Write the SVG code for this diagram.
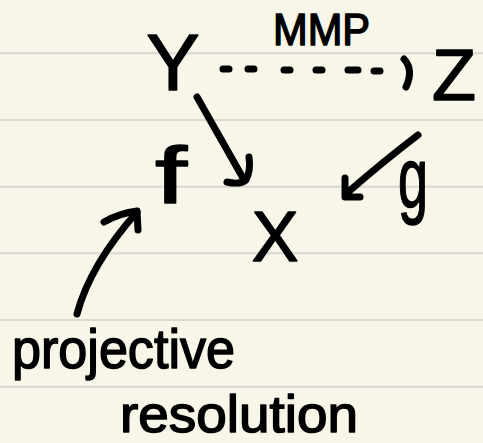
<svg xmlns="http://www.w3.org/2000/svg" width="483" height="443" viewBox="0 0 483 443">
<style>
.rule{stroke:#d8d8d4;stroke-width:2}
.hw{font-family:"Liberation Sans","DejaVu Sans",sans-serif;fill:#000;stroke:#000;stroke-width:1.5;stroke-linejoin:round}
.ink{fill:none;stroke:#000;stroke-width:7;stroke-linecap:round;stroke-linejoin:round}
</style>
<rect width="483" height="443" fill="#f8f6e8"/>
<g id="paper">
<line class="rule" x1="0" y1="53.3" x2="483" y2="53.3"/>
<line class="rule" x1="0" y1="120" x2="483" y2="120"/>
<line class="rule" x1="0" y1="186.7" x2="483" y2="186.7"/>
<line class="rule" x1="0" y1="253.3" x2="483" y2="253.3"/>
<line class="rule" x1="0" y1="320" x2="483" y2="320"/>
<line class="rule" x1="0" y1="386.7" x2="483" y2="386.7"/>
</g>
<g id="node-Y"><text class="hw" x="173" y="90" font-size="80" text-anchor="middle">Y</text></g>
<g id="node-Z"><text class="hw" x="454" y="100" font-size="72" text-anchor="middle">Z</text></g>
<g id="node-X"><text class="hw" x="275" y="261" font-size="70" text-anchor="middle">X</text></g>
<g id="connectors">
<path class="ink" d="M223 69h6 M248 69h6 M284 70h6 M316 70h6 M348 70h10 M374 71h6"/>
<path class="ink" d="M404 59 Q414 70 406 87"/>
<path class="ink" d="M197 97 L243 178"/>
<path class="ink" d="M227 182 Q240 185 246 180 Q251 170 249 157"/>
<path class="ink" d="M418 135 Q385 160 347 193"/>
<path class="ink" d="M345 178 L345 197 L360 197"/>
<path class="ink" d="M77 314 Q90 265 137 212"/>
<path class="ink" d="M104 222 Q120 213 137 211 L138 230"/>
</g>
<g id="label-MMP"><text class="hw" x="273" y="45" font-size="44" textLength="97" lengthAdjust="spacingAndGlyphs">MMP</text></g>
<g id="label-f"><text class="hw" x="155" y="203" font-size="80" textLength="32" lengthAdjust="spacingAndGlyphs">f</text></g>
<g id="label-g"><text class="hw" x="398" y="207" font-size="85" textLength="30" lengthAdjust="spacingAndGlyphs">g</text></g>
<g id="label-projective-resolution">
<text class="hw" x="12" y="368" font-size="56" textLength="223" lengthAdjust="spacingAndGlyphs">projective</text>
<text class="hw" x="120" y="432" font-size="52" textLength="238" lengthAdjust="spacingAndGlyphs">resolution</text>
</g>
</svg>
